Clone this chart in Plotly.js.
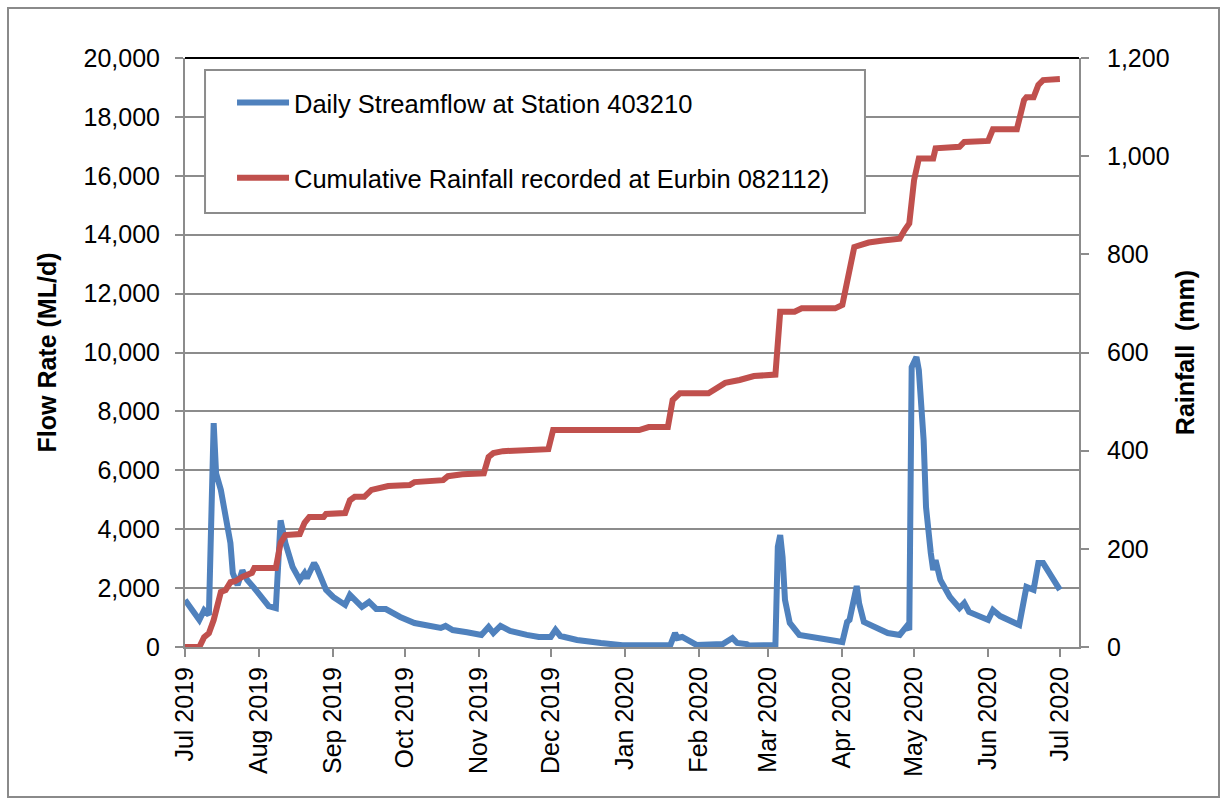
<!DOCTYPE html>
<html>
<head>
<meta charset="utf-8">
<script src="https://cdn.plot.ly/plotly-3.0.1.min.js"></script>
<style>
  html, body { margin: 0; padding: 0; background: #fff; }
  #wrap { position: relative; width: 1226px; height: 805px; }
  #chart { width: 1226px; height: 805px; }
  #frame { position: absolute; left: 7px; top: 7px; width: 1209px; height: 787px;
           border: 2px solid #8a8a8a; pointer-events: none; }
</style>
</head>
<body>
<div id="wrap"><div id="chart"></div><div id="frame"></div></div>
<script>
// Daily streamflow at Station 403210 (ML/d)
const flowDates = [
  '2019-07-01','2019-07-04','2019-07-07','2019-07-09','2019-07-11','2019-07-13','2019-07-14','2019-07-16',
  '2019-07-18','2019-07-20','2019-07-21','2019-07-23','2019-07-25','2019-07-27','2019-07-30','2019-08-02',
  '2019-08-05','2019-08-08','2019-08-10','2019-08-12','2019-08-15','2019-08-18','2019-08-20','2019-08-21',
  '2019-08-24','2019-08-25','2019-08-29','2019-09-01','2019-09-06','2019-09-08','2019-09-11','2019-09-13',
  '2019-09-16','2019-09-19','2019-09-23','2019-09-29','2019-10-05','2019-10-10','2019-10-16','2019-10-18',
  '2019-10-21','2019-10-27','2019-11-02','2019-11-05','2019-11-07','2019-11-10','2019-11-14','2019-11-21',
  '2019-11-26','2019-12-01','2019-12-03','2019-12-05','2019-12-12','2019-12-22','2019-12-31','2020-01-20',
  '2020-01-22','2020-01-23','2020-01-25','2020-01-31','2020-02-11','2020-02-15','2020-02-17','2020-02-21',
  '2020-02-22','2020-03-04','2020-03-05','2020-03-06','2020-03-07','2020-03-08','2020-03-10','2020-03-14',
  '2020-03-25','2020-04-01','2020-04-03','2020-04-04','2020-04-07','2020-04-08','2020-04-10','2020-04-14',
  '2020-04-20','2020-04-25','2020-04-28','2020-04-29','2020-04-30','2020-05-02','2020-05-03','2020-05-05',
  '2020-05-06','2020-05-08','2020-05-09','2020-05-10','2020-05-12','2020-05-16','2020-05-20','2020-05-22',
  '2020-05-24','2020-06-01','2020-06-03','2020-06-06','2020-06-14','2020-06-17','2020-06-20','2020-06-22',
  '2020-06-24','2020-07-01'
];
const flowValues = [
  1600,1260,920,1250,1090,7600,5900,5330,
  4300,3530,2510,2100,2600,2280,2000,1660,
  1390,1320,4300,3530,2720,2280,2510,2340,
  2850,2720,1940,1700,1430,1770,1490,1360,
  1530,1290,1290,1020,815,715,645,715,
  575,500,410,680,475,715,545,410,
  340,340,580,375,240,135,60,60,
  475,306,340,70,100,306,136,100,
  50,70,3400,3800,3050,1600,815,410,
  240,170,850,920,2070,1490,850,680,
  475,410,715,575,9500,9850,9400,7030,
  4750,3190,2615,2950,2275,1700,1320,1490,
  1190,920,1256,1050,750,2040,1940,2850,
  2850,1940
];

// Cumulative rainfall recorded at Eurbin 082112 (mm)
const rainDates = [
  '2019-07-01','2019-07-07','2019-07-09','2019-07-11','2019-07-13','2019-07-15','2019-07-16','2019-07-18',
  '2019-07-20','2019-07-22','2019-07-25','2019-07-29','2019-07-30','2019-08-08','2019-08-10','2019-08-12',
  '2019-08-18','2019-08-20','2019-08-22','2019-08-28','2019-08-29','2019-09-06','2019-09-08','2019-09-10',
  '2019-09-14','2019-09-17','2019-09-22','2019-09-24','2019-10-03','2019-10-05','2019-10-17','2019-10-19',
  '2019-10-25','2019-11-03','2019-11-05','2019-11-07','2019-11-11','2019-11-30','2019-12-02','2020-01-07',
  '2020-01-11','2020-01-19','2020-01-21','2020-01-24','2020-02-05','2020-02-08','2020-02-12','2020-02-18',
  '2020-02-24','2020-03-04','2020-03-06','2020-03-12','2020-03-15','2020-03-29','2020-04-01','2020-04-06',
  '2020-04-08','2020-04-12','2020-04-18','2020-04-25','2020-04-27','2020-04-29','2020-05-01','2020-05-03',
  '2020-05-09','2020-05-10','2020-05-20','2020-05-22','2020-06-01','2020-06-03','2020-06-13','2020-06-16',
  '2020-06-17','2020-06-20','2020-06-22','2020-06-24','2020-07-01'
];
const rainValues = [
  0,0,20,28,55,96,112,116,
  132,134,143,151,161,161,212,228,
  230,253,265,265,271,273,299,306,
  306,320,324,328,330,336,340,348,
  352,354,387,395,399,403,442,442,
  448,448,503,517,517,527,538,544,
  552,555,683,683,690,690,697,815,
  819,824,828,832,849,863,951,995,
  995,1016,1019,1029,1031,1055,1055,1114,
  1120,1120,1145,1155,1157
];

const monthTicks = ['2019-07-01','2019-08-01','2019-09-01','2019-10-01','2019-11-01','2019-12-01',
  '2020-01-01','2020-02-01','2020-03-01','2020-04-01','2020-05-01','2020-06-01','2020-07-01'];
const monthLabels = ['Jul 2019','Aug 2019','Sep 2019','Oct 2019','Nov 2019','Dec 2019',
  'Jan 2020','Feb 2020','Mar 2020','Apr 2020','May 2020','Jun 2020','Jul 2020'];

const FONT = 'Liberation Sans, Arial, sans-serif';
const GRID = '#8c8c8c';

const traces = [
  { x: flowDates, y: flowValues, type: 'scatter', mode: 'lines',
    name: 'Daily Streamflow at Station 403210', legendgroup: 'a',
    line: { color: '#4F81BD', width: 6 }, yaxis: 'y' },
  { x: rainDates, y: rainValues, type: 'scatter', mode: 'lines',
    name: 'Cumulative Rainfall recorded at Eurbin 082112)', legendgroup: 'b',
    line: { color: '#C0504D', width: 6 }, yaxis: 'y2' }
];

const layout = {
  width: 1226, height: 805,
  margin: { l: 185, r: 147, t: 58, b: 158 },
  paper_bgcolor: '#fff', plot_bgcolor: '#fff',
  font: { family: FONT, size: 25, color: '#000' },
  showlegend: true,
  legend: { x: 0.0526, y: 0.9635, xanchor: 'left', yanchor: 'top',
            bgcolor: 'rgba(0,0,0,0)', borderwidth: 0, tracegroupgap: 39,
            itemwidth: 52, font: { family: FONT, size: 25.5, color: '#000' } },
  xaxis: {
    type: 'date', range: ['2019-07-01', '2020-07-09'],
    tickmode: 'array', tickvals: monthTicks, ticktext: monthLabels,
    tickangle: -90, ticks: 'outside', ticklen: 8, tickwidth: 2, tickcolor: GRID,
    showline: true, linecolor: GRID, linewidth: 2, showgrid: false, zeroline: false,
    tickfont: { family: FONT, size: 25, color: '#000' }, automargin: false
  },
  yaxis: {
    range: [0, 20000], dtick: 2000, tick0: 0, tickformat: ',d',
    ticks: 'outside', ticklen: 8, tickwidth: 2, tickcolor: GRID, ticklabelstandoff: 10,
    showline: true, linecolor: GRID, linewidth: 2,
    showgrid: true, gridcolor: GRID, gridwidth: 2, zeroline: false,
    tickfont: { family: FONT, size: 25, color: '#000' }, automargin: false,
    title: { text: 'Flow Rate (ML/d)', font: { family: FONT, size: 25, color: '#000', weight: 'bold' }, standoff: 20 }
  },
  yaxis2: {
    overlaying: 'y', side: 'right', range: [0, 1200], dtick: 200, tick0: 0, tickformat: ',d',
    ticks: 'outside', ticklen: 8, tickwidth: 2, tickcolor: GRID, ticklabelstandoff: 13,
    showline: true, linecolor: GRID, linewidth: 2, showgrid: false, zeroline: false,
    tickfont: { family: FONT, size: 25, color: '#000' }, automargin: false,
    title: { text: 'Rainfall\u00a0 (mm)', font: { family: FONT, size: 25, color: '#000', weight: 'bold' }, standoff: 8 }
  },
  shapes: [
    { type: 'rect', xref: 'paper', yref: 'paper', x0: 0.0224, x1: 0.7606, y0: 0.7368, y1: 0.9796,
      line: { color: GRID, width: 2 }, fillcolor: '#fff', layer: 'above' },
    { type: 'line', xref: 'paper', yref: 'paper', x0: 0, x1: 1, y0: 1, y1: 1,
      line: { color: '#000', width: 2 }, layer: 'above' }
  ]
};

Plotly.newPlot('chart', traces, layout, { displayModeBar: false, staticPlot: true });
</script>
</body>
</html>
